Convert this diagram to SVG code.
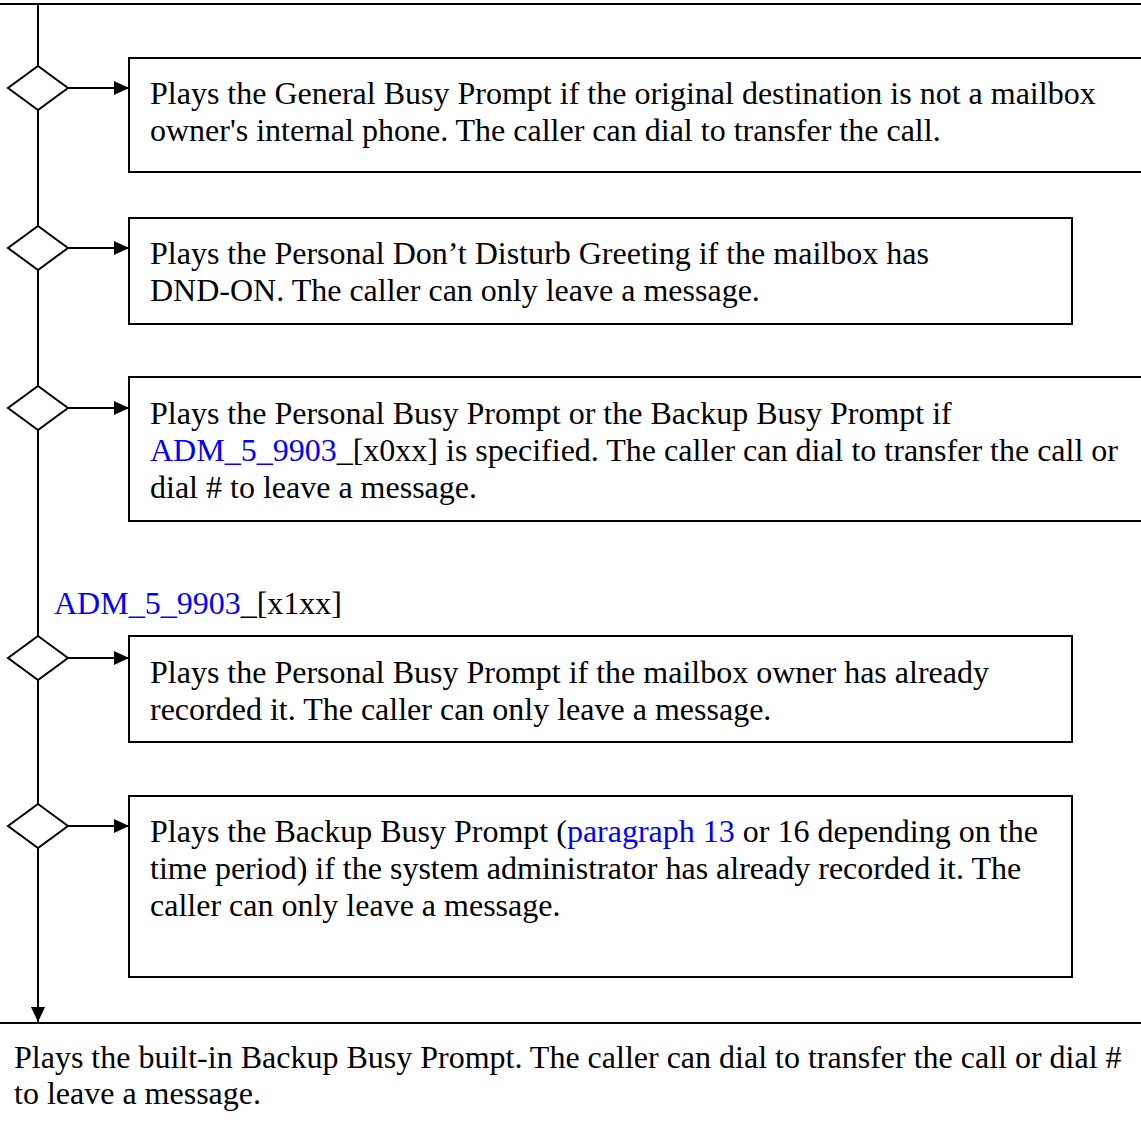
<svg xmlns="http://www.w3.org/2000/svg" width="1141" height="1127" viewBox="0 0 1141 1127">
<style>
.t{font-family:"Liberation Serif","Times New Roman",serif;font-size:32px;fill:#000}
.l{fill:#0000ff}
.box{fill:#fff;stroke:#000;stroke-width:2}
.dia{fill:#fff;stroke:#000;stroke-width:2}
.ln{stroke:#000;stroke-width:2;fill:none}
</style>
<defs>
<marker id="ah" viewBox="0 0 15 14" refX="15" refY="7" markerWidth="15" markerHeight="14" markerUnits="userSpaceOnUse" orient="auto">
<path d="M0,0 L15,7 L0,14 Z" fill="#000"/>
</marker>
</defs>
<rect width="1141" height="1127" fill="#fff"/>
<g id="connectors">
<line class="ln" x1="0" y1="4" x2="1141" y2="4"/>
<line class="ln" x1="38" y1="4" x2="38" y2="1022" marker-end="url(#ah)"/>
<line class="ln" x1="0" y1="1023" x2="1141" y2="1023"/>
<line class="ln" x1="68" y1="88" x2="129" y2="88" marker-end="url(#ah)"/>
<line class="ln" x1="68" y1="248" x2="129" y2="248" marker-end="url(#ah)"/>
<line class="ln" x1="68" y1="408" x2="129" y2="408" marker-end="url(#ah)"/>
<line class="ln" x1="68" y1="658" x2="129" y2="658" marker-end="url(#ah)"/>
<line class="ln" x1="68" y1="826" x2="129" y2="826" marker-end="url(#ah)"/>
</g>
<g id="d1"><polygon class="dia" points="38,66 68,88 38,110 8,88"/></g>
<g id="d2"><polygon class="dia" points="38,226 68,248 38,270 8,248"/></g>
<g id="d3"><polygon class="dia" points="38,386 68,408 38,430 8,408"/></g>
<g id="d4"><polygon class="dia" points="38,636 68,658 38,680 8,658"/></g>
<g id="d5"><polygon class="dia" points="38,804 68,826 38,848 8,826"/></g>
<g id="box1">
<rect class="box" x="129" y="58" width="1030" height="114"/>
<text class="t" x="150" y="104">Plays the General Busy Prompt if the original destination is not a mailbox</text>
<text class="t" x="150" y="141">owner's internal phone. The caller can dial to transfer the call.</text>
</g>
<g id="box2">
<rect class="box" x="129" y="218" width="943" height="106"/>
<text class="t" x="150" y="264">Plays the Personal Don’t Disturb Greeting if the mailbox has</text>
<text class="t" x="150" y="301">DND-ON. The caller can only leave a message.</text>
</g>
<g id="box3">
<rect class="box" x="129" y="377" width="1030" height="144"/>
<text class="t" x="150" y="424">Plays the Personal Busy Prompt or the Backup Busy Prompt if</text>
<text class="t" x="150" y="461"><tspan class="l">ADM_5_9903</tspan>_[x0xx] is specified. The caller can dial to transfer the call or</text>
<text class="t" x="150" y="498">dial # to leave a message.</text>
</g>
<g id="label">
<text class="t" x="54" y="614"><tspan class="l">ADM_5_9903</tspan>_[x1xx]</text>
</g>
<g id="box4">
<rect class="box" x="129" y="636" width="943" height="106"/>
<text class="t" x="150" y="683">Plays the Personal Busy Prompt if the mailbox owner has already</text>
<text class="t" x="150" y="720">recorded it. The caller can only leave a message.</text>
</g>
<g id="box5">
<rect class="box" x="129" y="796" width="943" height="181"/>
<text class="t" x="150" y="842">Plays the Backup Busy Prompt (<tspan class="l">paragraph 13</tspan> or 16 depending on the</text>
<text class="t" x="150" y="879">time period) if the system administrator has already recorded it. The</text>
<text class="t" x="150" y="916">caller can only leave a message.</text>
</g>
<g id="bottom">
<text class="t" x="14" y="1068">Plays the built-in Backup Busy Prompt. The caller can dial to transfer the call or dial #</text>
<text class="t" x="14" y="1104">to leave a message.</text>
</g>
</svg>
